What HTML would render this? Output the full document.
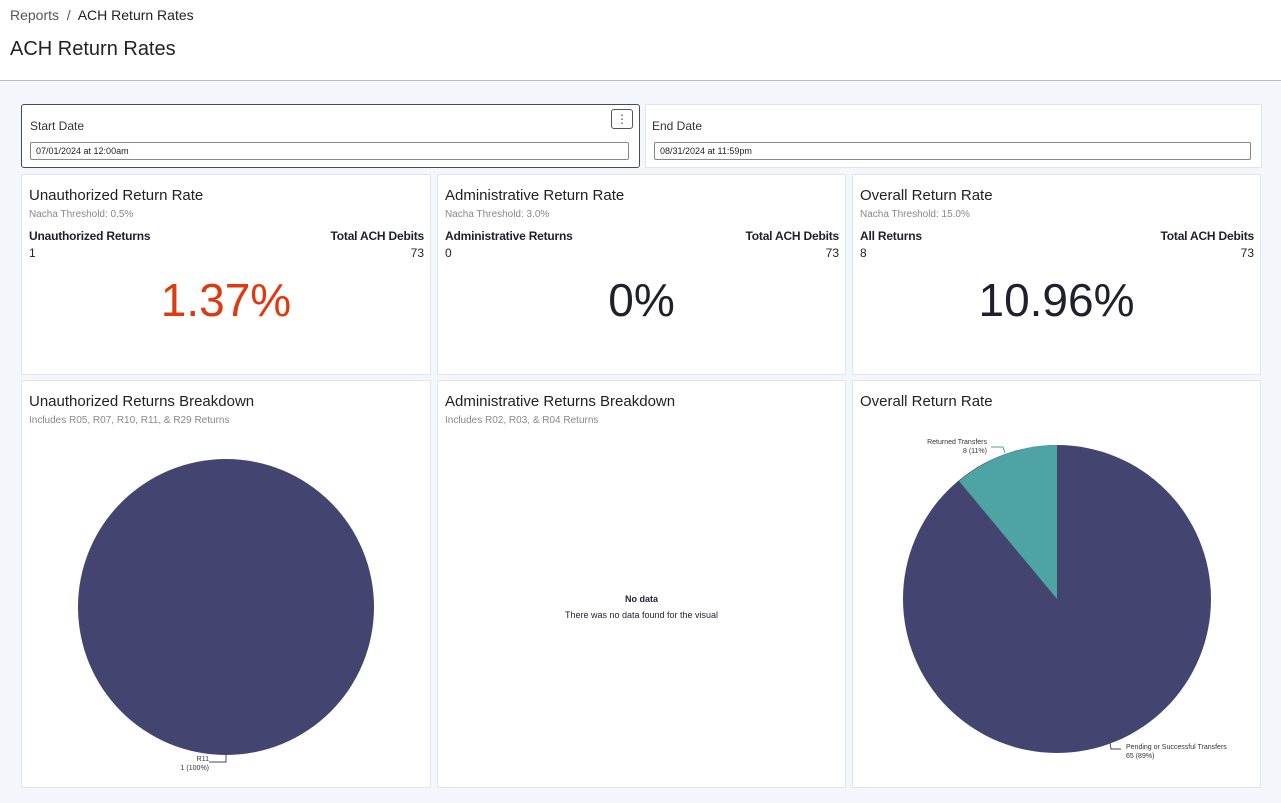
<!DOCTYPE html>
<html><head><style>
*{box-sizing:border-box;margin:0;padding:0}
body{width:1281px;height:803px;background:#f3f6fb;font-family:"Liberation Sans",sans-serif;color:#1f1f2e;position:relative;overflow:hidden}
.hdr{position:absolute;left:0;top:0;width:1281px;height:81px;background:#fff;border-bottom:1px solid #b9bcc2}
.bc{position:absolute;left:10px;top:7px;font-size:14px;color:#555}
.bc b{font-weight:normal;color:#222}
.h1{position:absolute;left:10px;top:38px;font-size:20px;color:#222}
.card{position:absolute;background:#fff;border:1px solid #e2e5ea}
.lbl{position:absolute;left:8px;font-size:12px;color:#333}
.inp{position:absolute;left:8px;right:10px;height:18px;border:1px solid #888;border-radius:2px;font-size:9px;padding:3px 5px;color:#222}
.t{position:absolute;left:7px;top:12px;font-size:15px;color:#222}
.s{position:absolute;left:7px;top:34px;font-size:10px;color:#888}
.bl{position:absolute;left:7px;top:54px;font-size:12px;font-weight:bold;letter-spacing:-0.2px}
.br{position:absolute;right:6px;top:54px;font-size:12px;font-weight:bold;letter-spacing:-0.2px}
.vl{position:absolute;left:7px;top:71px;font-size:12px}
.vr{position:absolute;right:6px;top:71px;font-size:12px}
.big{position:absolute;left:0;right:0;top:98px;text-align:center;font-size:46px;color:#1f1f2e}
</style></head><body>
<div class="hdr"><div class="bc">Reports &nbsp;/&nbsp; <b>ACH Return Rates</b></div><div class="h1">ACH Return Rates</div></div>

<div class="card" style="left:21px;top:104px;width:619px;height:64px;border:1px solid #4a4a5a;border-radius:3px">
<div class="lbl" style="top:14px">Start Date</div>
<div class="inp" style="top:37px">07/01/2024 at 12:00am</div>
<div style="position:absolute;right:6px;top:4px;width:22px;height:20px;border:1px solid #555;border-radius:3px;text-align:center;font-size:12px;line-height:18px;color:#555">⋮</div>
</div>
<div class="card" style="left:645px;top:104px;width:617px;height:64px">
<div class="lbl" style="top:14px;left:6px">End Date</div>
<div class="inp" style="top:37px">08/31/2024 at 11:59pm</div>
</div>

<div class="card" style="left:21px;top:174px;width:410px;height:201px">
<div class="t">Unauthorized Return Rate</div><div class="s">Nacha Threshold: 0.5%</div>
<div class="bl">Unauthorized Returns</div><div class="br">Total ACH Debits</div>
<div class="vl">1</div><div class="vr">73</div>
<div class="big" style="color:#dd3a0f">1.37%</div></div>
<div class="card" style="left:437px;top:174px;width:409px;height:201px">
<div class="t">Administrative Return Rate</div><div class="s">Nacha Threshold: 3.0%</div>
<div class="bl">Administrative Returns</div><div class="br">Total ACH Debits</div>
<div class="vl">0</div><div class="vr">73</div>
<div class="big">0%</div></div>
<div class="card" style="left:852px;top:174px;width:409px;height:201px">
<div class="t">Overall Return Rate</div><div class="s">Nacha Threshold: 15.0%</div>
<div class="bl">All Returns</div><div class="br">Total ACH Debits</div>
<div class="vl">8</div><div class="vr">73</div>
<div class="big">10.96%</div></div>

<div class="card" style="left:21px;top:380px;width:410px;height:408px">
<div class="t">Unauthorized Returns Breakdown</div><div class="s">Includes R05, R07, R10, R11, &amp; R29 Returns</div></div>
<div class="card" style="left:437px;top:380px;width:409px;height:408px">
<div class="t">Administrative Returns Breakdown</div><div class="s">Includes R02, R03, &amp; R04 Returns</div>
<div style="position:absolute;left:0;right:0;top:213px;text-align:center;font-size:9px;font-weight:bold">No data</div>
<div style="position:absolute;left:0;right:0;top:229px;text-align:center;font-size:9px">There was no data found for the visual</div></div>
<div class="card" style="left:852px;top:380px;width:409px;height:408px">
<div class="t">Overall Return Rate</div></div>

<svg style="position:absolute;left:0;top:0" width="1281" height="803">
<circle cx="226" cy="607" r="148" fill="#43446f"/>
<polyline points="209,762 226,762 226,755" fill="none" stroke="#43446f" stroke-width="1"/>
<text x="209" y="761" font-size="7" text-anchor="end" fill="#333" font-family="Liberation Sans">R11</text>
<text x="209" y="770" font-size="7" text-anchor="end" fill="#333" font-family="Liberation Sans">1 (100%)</text>
<circle cx="1057" cy="599" r="154" fill="#43446f"/>
<path d="M1057,599 L1057,445 A154,154 0 0 0 959,481 Z" fill="#4ea3a5"/>
<polyline points="991,447 1003,447 1005,453" fill="none" stroke="#4ea3a5"/>
<text x="987" y="444" font-size="7" text-anchor="end" fill="#333" font-family="Liberation Sans">Returned Transfers</text>
<text x="987" y="453" font-size="7" text-anchor="end" fill="#333" font-family="Liberation Sans">8 (11%)</text>
<polyline points="1110,743 1111,749 1121,749" fill="none" stroke="#43446f"/>
<text x="1126" y="749" font-size="7" fill="#333" font-family="Liberation Sans">Pending or Successful Transfers</text>
<text x="1126" y="758" font-size="7" fill="#333" font-family="Liberation Sans">65 (89%)</text>
</svg>
</body></html>
